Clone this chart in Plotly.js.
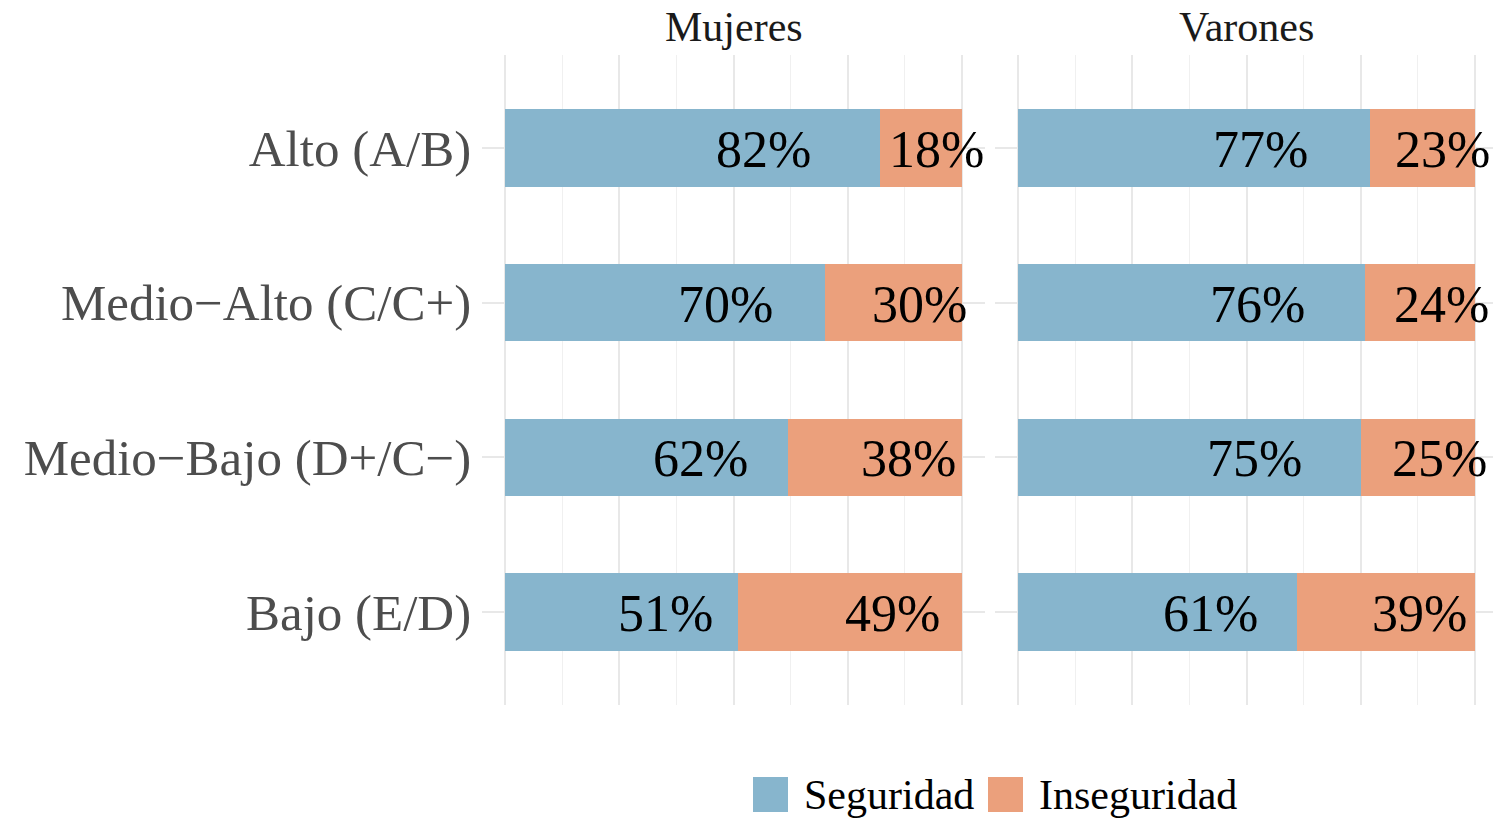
<!DOCTYPE html>
<html>
<head>
<meta charset="utf-8">
<script src="https://cdn.plot.ly/plotly-3.0.1.min.js"></script>
<style>html,body{margin:0;padding:0;background:#fff;}#chart{width:1493px;height:819px;}</style>
</head>
<body>
<div id="chart"></div>
<script>
const categories = ["Alto (A/B)", "Medio\u2212Alto (C/C+)", "Medio\u2212Bajo (D+/C\u2212)", "Bajo (E/D)"];
const panels = ["Mujeres", "Varones"];
const seriesNames = ["Seguridad", "Inseguridad"];
const seriesColors = ["#87b5cd", "#eba07c"];
const mujeresSeguridad = [82, 70, 62, 51];
const mujeresInseguridad = [18, 30, 38, 49];
const varonesSeguridad = [77, 76, 75, 61];
const varonesInseguridad = [23, 24, 25, 39];

const W = 1493, H = 819;
const FONT = "Liberation Serif, Times New Roman, serif";
const labelPos = 0.69;

const labelAnnotations = [];
function panelTraces(seg, inseg, xa, ya) {
  const traces = [];
  [seg, inseg].forEach((vals, i) => {
    traces.push({
      type: "bar", orientation: "h", name: seriesNames[i],
      x: vals.map(v => v / 100), y: categories, width: 0.5,
      marker: {color: seriesColors[i], line: {width: 0}},
      xaxis: xa, yaxis: ya, showlegend: false, hoverinfo: "skip"
    });
  });
  categories.forEach((c, k) => {
    [[seg[k] * labelPos / 100, seg[k]], [(seg[k] + inseg[k] * labelPos) / 100, inseg[k]]].forEach(p => {
      labelAnnotations.push({
        xref: xa, yref: ya, x: p[0], y: c, text: p[1] + "%",
        xanchor: "center", yanchor: "middle", yshift: -1.5, showarrow: false,
        font: {family: FONT, size: 52, color: "#000"}
      });
    });
  });
  return traces;
}

const data = [].concat(
  panelTraces(mujeresSeguridad, mujeresInseguridad, "x", "y"),
  panelTraces(varonesSeguridad, varonesInseguridad, "x2", "y2")
);

const xBase = {
  tick0: 0, dtick: 0.25, showticklabels: false, ticks: "",
  showgrid: true, gridcolor: "#e8e8e8", gridwidth: 2,
  zeroline: false, showline: false,
  minor: {showgrid: true, dtick: 0.125, tick0: 0, gridcolor: "#f0f0f0", gridwidth: 1, ticks: ""},
  fixedrange: true
};
const yDomain = [1 - 705 / H, 1 - 55 / H];
const yBase = {
  type: "category", categoryorder: "array", categoryarray: categories,
  range: [3.6, -0.6], domain: yDomain,
  showgrid: true, gridcolor: "#e8e8e8", gridwidth: 2,
  zeroline: false, showline: false, ticks: "", automargin: false
};

const legendShapes = [], legendAnn = [];
const legendItems = [{sx: 753, tx: 802}, {sx: 988, tx: 1037}];
legendItems.forEach((it, i) => {
  legendShapes.push({type: "rect", xref: "paper", yref: "paper",
    x0: it.sx / W, x1: (it.sx + 35) / W, y0: 1 - 812 / H, y1: 1 - 777 / H,
    fillcolor: seriesColors[i], line: {width: 0}});
  legendAnn.push({xref: "paper", yref: "paper", x: it.tx / W, y: 1 - 795 / H,
    xanchor: "left", yanchor: "middle", showarrow: false, text: seriesNames[i],
    font: {family: FONT, size: 42, color: "#000"}});
});

const layout = {
  width: W, height: H,
  margin: {l: 0, r: 0, t: 0, b: 0},
  paper_bgcolor: "#fff", plot_bgcolor: "rgba(0,0,0,0)",
  barmode: "stack", bargap: 0,
  showlegend: false,
  font: {family: FONT},
  xaxis: Object.assign({}, xBase, {domain: [482.2 / W, 984.9 / W], range: [-0.05, 1.05], anchor: "y"}),
  xaxis2: Object.assign({}, xBase, {domain: [995.3 / W, 1], range: [-0.05, (W - 1018) / 457], anchor: "y2"}),
  yaxis: Object.assign({}, yBase, {anchor: "x", showticklabels: true, ticklabelstandoff: 10,
    tickfont: {family: FONT, size: 51, color: "#4d4d4d"}}),
  yaxis2: Object.assign({}, yBase, {anchor: "x2", matches: "y", showticklabels: false}),
  annotations: [
    {xref: "x", yref: "paper", x: 0.5, y: 1 - 27 / H, xanchor: "center", yanchor: "middle",
     showarrow: false, text: panels[0], font: {family: FONT, size: 42, color: "#1a1a1a"}},
    {xref: "x2", yref: "paper", x: 0.5, y: 1 - 27 / H, xanchor: "center", yanchor: "middle",
     showarrow: false, text: panels[1], font: {family: FONT, size: 42, color: "#1a1a1a"}}
  ].concat(legendAnn, labelAnnotations),
  shapes: legendShapes
};

Plotly.newPlot("chart", data, layout, {displayModeBar: false, staticPlot: true});
</script>
</body>
</html>
